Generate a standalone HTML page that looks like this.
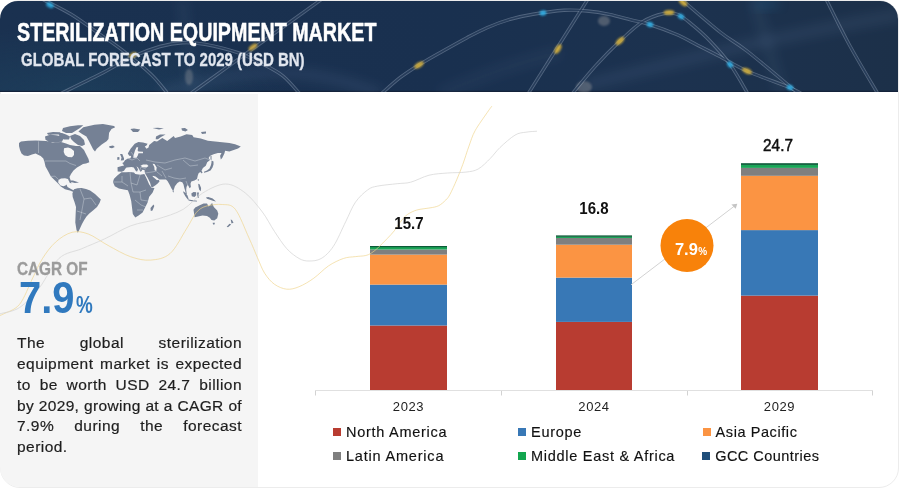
<!DOCTYPE html>
<html><head><meta charset="utf-8">
<style>
*{margin:0;padding:0;box-sizing:border-box}
html,body{width:900px;height:489px;overflow:hidden;background:#fff;font-family:"Liberation Sans",sans-serif}
.abs{position:absolute}
.cagr,.big,.pct,.para,.val,.yr,.lg{z-index:2}
#frame{position:absolute;left:0;top:0;width:899px;height:488px;border:1px solid #ececec;border-radius:20px;background:#fff}
#hdr{position:absolute;left:0;top:1px;width:898px;height:91.3px;border-radius:18px 18px 0 0;overflow:hidden;box-shadow:inset 0 -1.3px 0 #13223a;background:radial-gradient(ellipse 220px 70px at 70px 95px,rgba(32,72,100,0.55),rgba(32,72,100,0)),linear-gradient(90deg,#1a3150 0%,#19304f 50%,#1c324f 75%,#1c3049 100%)}
#lp{position:absolute;left:0;top:94px;width:258px;height:393px;background:#f5f5f5;border-bottom-left-radius:20px}
.t1{position:absolute;left:17.3px;top:16.9px;color:#fff;font-weight:bold;font-size:25px;white-space:nowrap;transform-origin:0 0;transform:scaleX(0.7874);-webkit-text-stroke:0.5px #fff}
.t2{position:absolute;left:21.2px;top:49px;color:#e1e6ee;font-weight:bold;font-size:17.5px;white-space:nowrap;transform-origin:0 0;transform:scaleX(0.857);-webkit-text-stroke:0.3px #e1e6ee}
.cagr{position:absolute;left:16.7px;top:257.8px;color:#9b9b9b;font-weight:bold;font-size:18.3px;white-space:nowrap;transform-origin:0 0;transform:scaleX(0.837);-webkit-text-stroke:0.3px #9b9b9b}
.big{position:absolute;left:19px;top:273px;color:#3079be;font-weight:bold;font-size:44.5px;white-space:nowrap;transform-origin:0 0;transform:scaleX(0.896)}
.pct{position:absolute;left:75.8px;top:291px;color:#3079be;font-weight:bold;font-size:24.3px;white-space:nowrap;transform-origin:0 0;transform:scaleX(0.775)}
.para{position:absolute;left:17px;top:333.2px;width:225px;font-size:15.5px;line-height:20.8px;color:#1e1e1e;letter-spacing:0.45px;-webkit-text-stroke:0.2px #1e1e1e}
.para div{text-align:justify;text-align-last:justify;white-space:nowrap}
.para div.l{text-align-last:left}
.bar{position:absolute;width:77px}
.val{position:absolute;font-weight:bold;font-size:17px;color:#111;text-align:center;width:80px;transform-origin:50% 0;transform:scaleX(0.885)}
.yr{position:absolute;font-size:13px;color:#222;text-align:center;width:80px;letter-spacing:0.6px}
.lg{position:absolute;font-size:14.5px;color:#111;white-space:nowrap;letter-spacing:0.45px;-webkit-text-stroke:0.15px #111}
.lg i{position:absolute;left:-13px;top:3.5px;width:8px;height:8px}
</style></head>
<body>
<div id="frame"></div>
<div id="hdr">
<svg class="abs" style="left:0;top:0" width="898" height="91" viewBox="0 0 898 91">
 <defs>
  <filter id="bl" x="-50%" y="-50%" width="200%" height="200%"><feGaussianBlur stdDeviation="1.3"/></filter>
  <filter id="bl2" x="-50%" y="-50%" width="200%" height="200%"><feGaussianBlur stdDeviation="6"/></filter>
  <radialGradient id="rg1" cx="0.5" cy="0.5" r="0.5"><stop offset="0" stop-color="#3a5a85" stop-opacity="0.45"/><stop offset="1" stop-color="#3a5a85" stop-opacity="0"/></radialGradient>
 </defs>
 <g fill="none" stroke="#6d86a8" stroke-opacity="0.2" stroke-width="8" filter="url(#bl2)">
  <path d="M585 84 C 680 60, 790 32, 900 14"/>
  <path d="M754 -2 L 782 93" stroke-opacity="0.14"/>
  <path d="M182 -2 L 193 93" stroke-width="4" stroke-opacity="0.25"/>
  <path d="M440 93 C 470 80, 520 60, 560 52" stroke-opacity="0.12"/>
  <path d="M160 93 C 230 70, 300 60, 380 93"/>
 </g>
 <ellipse cx="604" cy="20" rx="6" ry="5" fill="#c8c0b8" opacity="0.3" filter="url(#bl)"/>
 <ellipse cx="584" cy="86" rx="8" ry="6" fill="#c8c0b8" opacity="0.3" filter="url(#bl)"/>
 <ellipse cx="766" cy="3" rx="14" ry="5" fill="#2a7fb0" opacity="0.25" filter="url(#bl2)"/>
 <ellipse cx="189" cy="76" rx="4" ry="8" fill="#c8c0b8" opacity="0.25" filter="url(#bl)"/>
  <g fill="none" stroke="#b4c2d6" stroke-opacity="0.36" stroke-width="3.4">
<path d="M381.0 93.0 C384.2 90.3 393.5 81.7 400.0 76.7 C406.5 71.8 412.8 67.8 420.0 63.3 C427.2 58.8 435.2 54.4 443.0 50.0 C450.8 45.6 459.7 40.6 467.0 36.7 C474.3 32.8 479.8 29.8 487.0 26.7 C494.2 23.6 502.3 20.5 510.0 18.3 C517.7 16.1 524.0 14.8 533.0 13.3 C542.0 11.8 555.0 9.9 564.0 9.3 C573.0 8.8 579.5 9.3 587.0 10.0 C594.5 10.7 601.7 11.8 609.0 13.3 C616.3 14.8 624.3 17.2 631.0 18.9 C637.7 20.6 641.5 20.9 649.0 23.3 C656.5 25.7 667.8 29.8 676.0 33.3 C684.2 36.8 690.7 40.7 698.0 44.4 C705.3 48.1 711.8 51.3 720.0 55.6 C728.2 59.9 735.3 64.8 747.0 70.0 C758.7 75.2 780.8 82.9 790.0 86.7 C799.2 90.5 800.0 92.0 802.0 93.0"/>
<path d="M572.0 93.0 C576.0 88.2 588.0 73.2 596.0 64.4 C604.0 55.6 612.3 47.2 620.0 40.0 C627.7 32.8 634.7 25.7 642.0 21.1 C649.3 16.5 658.0 13.8 664.0 12.5 C670.0 11.2 673.2 11.5 678.0 13.5 C682.8 15.5 687.7 20.0 693.0 24.4 C698.3 28.8 703.8 33.5 710.0 40.0 C716.2 46.5 723.7 54.5 730.0 63.3 C736.3 72.1 745.0 88.0 748.0 93.0"/>
<path d="M528.0 93.0 C538.0 77.2 578.0 13.8 588.0 -2.0"/>
<path d="M681.0 -2.0 C687.5 3.5 709.0 22.3 720.0 31.0 C731.0 39.7 733.8 39.7 747.0 50.0 C760.2 60.3 790.3 85.8 799.0 93.0"/>
<path d="M826.0 -2.0 C830.0 5.8 841.3 29.2 850.0 45.0 C858.7 60.8 873.3 85.0 878.0 93.0"/>
<path d="M42.0 -2.0 C46.8 0.6 61.3 7.4 71.0 13.3 C80.7 19.2 91.5 27.4 100.0 33.3 C108.5 39.2 113.5 42.2 122.0 48.9 C130.5 55.6 143.3 66.0 151.0 73.3 C158.7 80.6 165.2 89.7 168.0 93.0"/>
<path d="M60.0 93.0 C66.7 89.7 87.8 79.5 100.0 73.3 C112.2 67.1 123.0 60.2 133.0 55.6 C143.0 51.0 151.8 47.8 160.0 45.5 C168.2 43.2 174.5 42.1 182.0 41.7 C189.5 41.3 195.7 41.6 205.0 43.3 C214.3 45.0 228.3 48.4 238.0 51.7 C247.7 55.0 255.5 59.4 263.0 63.3 C270.5 67.2 276.8 70.0 283.0 75.0 C289.2 80.0 297.2 90.0 300.0 93.0"/>
<path d="M190.0 93.0 C212.0 77.2 300.0 13.8 322.0 -2.0"/>
 </g>
 <g fill="none" stroke="#19304f" stroke-opacity="0.75" stroke-width="1.6">
<path d="M381.0 93.0 C384.2 90.3 393.5 81.7 400.0 76.7 C406.5 71.8 412.8 67.8 420.0 63.3 C427.2 58.8 435.2 54.4 443.0 50.0 C450.8 45.6 459.7 40.6 467.0 36.7 C474.3 32.8 479.8 29.8 487.0 26.7 C494.2 23.6 502.3 20.5 510.0 18.3 C517.7 16.1 524.0 14.8 533.0 13.3 C542.0 11.8 555.0 9.9 564.0 9.3 C573.0 8.8 579.5 9.3 587.0 10.0 C594.5 10.7 601.7 11.8 609.0 13.3 C616.3 14.8 624.3 17.2 631.0 18.9 C637.7 20.6 641.5 20.9 649.0 23.3 C656.5 25.7 667.8 29.8 676.0 33.3 C684.2 36.8 690.7 40.7 698.0 44.4 C705.3 48.1 711.8 51.3 720.0 55.6 C728.2 59.9 735.3 64.8 747.0 70.0 C758.7 75.2 780.8 82.9 790.0 86.7 C799.2 90.5 800.0 92.0 802.0 93.0"/>
<path d="M572.0 93.0 C576.0 88.2 588.0 73.2 596.0 64.4 C604.0 55.6 612.3 47.2 620.0 40.0 C627.7 32.8 634.7 25.7 642.0 21.1 C649.3 16.5 658.0 13.8 664.0 12.5 C670.0 11.2 673.2 11.5 678.0 13.5 C682.8 15.5 687.7 20.0 693.0 24.4 C698.3 28.8 703.8 33.5 710.0 40.0 C716.2 46.5 723.7 54.5 730.0 63.3 C736.3 72.1 745.0 88.0 748.0 93.0"/>
<path d="M528.0 93.0 C538.0 77.2 578.0 13.8 588.0 -2.0"/>
<path d="M681.0 -2.0 C687.5 3.5 709.0 22.3 720.0 31.0 C731.0 39.7 733.8 39.7 747.0 50.0 C760.2 60.3 790.3 85.8 799.0 93.0"/>
<path d="M826.0 -2.0 C830.0 5.8 841.3 29.2 850.0 45.0 C858.7 60.8 873.3 85.0 878.0 93.0"/>
<path d="M42.0 -2.0 C46.8 0.6 61.3 7.4 71.0 13.3 C80.7 19.2 91.5 27.4 100.0 33.3 C108.5 39.2 113.5 42.2 122.0 48.9 C130.5 55.6 143.3 66.0 151.0 73.3 C158.7 80.6 165.2 89.7 168.0 93.0"/>
<path d="M60.0 93.0 C66.7 89.7 87.8 79.5 100.0 73.3 C112.2 67.1 123.0 60.2 133.0 55.6 C143.0 51.0 151.8 47.8 160.0 45.5 C168.2 43.2 174.5 42.1 182.0 41.7 C189.5 41.3 195.7 41.6 205.0 43.3 C214.3 45.0 228.3 48.4 238.0 51.7 C247.7 55.0 255.5 59.4 263.0 63.3 C270.5 67.2 276.8 70.0 283.0 75.0 C289.2 80.0 297.2 90.0 300.0 93.0"/>
<path d="M190.0 93.0 C212.0 77.2 300.0 13.8 322.0 -2.0"/>
 </g>
 <g filter="url(#bl)" opacity="0.85">
  <ellipse cx="419" cy="64" rx="5.5" ry="2.6" fill="#e0b83a" transform="rotate(-32 419 64)"/>
  <ellipse cx="558" cy="48" rx="5.5" ry="2.6" fill="#e0b83a" transform="rotate(-57.7 558 48)"/>
  <ellipse cx="620" cy="40" rx="5.5" ry="2.6" fill="#e0b83a" transform="rotate(-43 620 40)"/>
  <ellipse cx="669" cy="11.5" rx="5.5" ry="2.6" fill="#e0b83a" transform="rotate(-3 669 11.5)"/>
  <ellipse cx="747" cy="70" rx="5.5" ry="2.6" fill="#e0b83a" transform="rotate(24 747 70)"/>
  <ellipse cx="683" cy="1.5" rx="5" ry="2.6" fill="#e0b83a" transform="rotate(40 683 1.5)"/>
  <ellipse cx="253" cy="46" rx="5" ry="2.6" fill="#d8b040" transform="rotate(-35.7 253 46)"/>
  <ellipse cx="133" cy="54" rx="4" ry="2.6" fill="#d8b040" transform="rotate(-24.9 133 54)"/>
  <ellipse cx="543" cy="12" rx="3.5" ry="2.6" fill="#30b8f0" transform="rotate(-7 543 12)"/>
  <ellipse cx="650" cy="23.5" rx="3.5" ry="2.6" fill="#30b8f0" transform="rotate(17.7 650 23.5)"/>
  <ellipse cx="681" cy="15.5" rx="3.5" ry="2.6" fill="#30b8f0" transform="rotate(36 681 15.5)"/>
  <ellipse cx="730" cy="63.5" rx="3.5" ry="2.6" fill="#30b8f0" transform="rotate(54 730 63.5)"/>
  <ellipse cx="790" cy="86.5" rx="3.5" ry="2.6" fill="#30b8f0" transform="rotate(22.7 790 86.5)"/>
  <ellipse cx="50" cy="4" rx="4" ry="2.6" fill="#30b8f0" transform="rotate(27.8 50 4)"/>
 </g>
</svg>
<div class="t1" id="t1">STERILIZATION EQUIPMENT MARKET</div>
<div class="t2" id="t2">GLOBAL FORECAST TO 2029 (USD BN)</div>
</div>
<div id="lp"></div>

<!-- world map placeholder -->
<svg class="abs" id="map" style="left:0;top:0" width="260" height="260" viewBox="0 0 260 260"><path fill="#758195" d="M19,146 L19,143 L21,141.5 L28,140.8 L36,140.6 L46,141 L53,142.5 L61,141.9 L66,143.5 L70,145 L76,146 L80,146 L84,150 L86.5,155 L88.5,159 L89.3,162.3 L86,163.5 L83,164 L80.5,165.5 L77,167.5 L73.5,170.5 L71,174 L69.5,177 L70.5,180 L71.4,183.5 L69.5,182.5 L68,179 L65,178.3 L61,178.5 L58.5,180 L58.2,182.5 L60.5,185.5 L63.5,186.3 L65.5,185.5 L66.5,184.5 L67.5,187 L71,189 L74,190.5 L77.8,190.5 L77,192 L74,192.2 L70,190.5 L65,189.2 L60.5,186.3 L58.6,184.1 L55,180.5 L50.9,176.4 L48,171 L45.5,166.5 L44.5,162 L43.3,158.5 L40.7,155.9 L37.5,154.5 L35.6,153.4 L32,154.5 L27.9,155.9 L24,155.5 L21.5,153.4 L20,150 Z M78.4,131.5 L83.3,127.2 L94.4,124.7 L102.9,124.1 L114,126 L115.2,127.2 L111.5,129 L109.1,132.7 L108.5,138.9 L106.6,141.3 L101.7,144.4 L96.8,148.7 L95,151.5 L93.1,149.3 L90.7,144.4 L88.8,140.7 L86.4,136.4 L82.1,134 Z M70,136 L75,134 L80,136 L84,140 L85,144.5 L82,146 L78,145 L74,142 L71,139 Z M63,128 L70,126.3 L78,125.3 L83.3,125.3 L80,128 L76,130.5 L72,133 L66,133 L62,131 Z M45,136.5 L50,134.8 L56,135.2 L60,136 L63.5,138.5 L62,141.8 L55,142.3 L49,141.8 L45.5,139.8 Z M47,133 L53,132 L60,132.3 L62,134.2 L55,134.6 L48,134.8 Z M58,133 L62,133 L66,134.5 L70,136.5 L69,139.5 L64,139.5 L60,137 Z M68.9,180.3 L73,180.5 L79,182.5 L75,183 L69,181.5 Z M74,189.2 L77.5,188.3 L81.6,187.9 L86,189 L90.1,190.4 L95,194.1 L100.8,199.4 L99.5,203 L97,207.1 L93,210.5 L89.3,213.5 L86.5,216.5 L84.2,219.9 L82,224 L80.4,227.6 L79,230.5 L77.8,232.7 L76.5,230 L75.3,222.5 L75.6,215 L76,207.1 L74.5,202 L72.7,196.9 L72.4,193.5 Z M112.9,182.1 L114,178.8 L117.3,175.5 L121.4,172.3 L126,172.2 L130,172 L134,172.6 L135.3,173.9 L140.2,174.7 L144.3,173.9 L146.7,178.8 L149.2,184.5 L151.6,187.8 L154.5,188 L152.5,192.7 L149.2,196.8 L147.6,202.6 L145.1,207.5 L142.6,212.4 L138.6,215.6 L135.3,217.6 L132.8,214 L132,207.5 L131.2,200.9 L129.5,194.4 L127.9,190.3 L123.8,189.5 L118.9,188.6 L114.8,186.2 Z M153.5,204.5 L154.3,206 L152.5,210.5 L150.8,211 L150.5,208 Z M121.8,171.8 L117.7,171.4 L117.5,167.2 L120.9,166.3 L124.1,165.4 L122.3,163.1 L123.7,162.3 L125,160.3 L127.8,158.5 L130.5,158.2 L131.2,156 L129.2,155.7 L127.8,153.4 L130.6,148.8 L134.7,143.7 L138.4,141.9 L143,142.4 L147.6,143.7 L146.5,145.5 L144.8,146.5 L146.5,148.8 L148.5,147.5 L149.2,145 L154.1,140.9 L157,141.5 L162.3,138 L167.2,140.9 L173.7,136 L175,137.9 L180.7,136.5 L186.5,134.3 L192.2,135 L193.6,137.2 L200.8,138.6 L207.9,140.7 L215.1,141.5 L222.2,142.2 L229.4,142.9 L235.1,144.3 L240.8,146.5 L238,148.6 L233.7,150 L229.4,151.5 L225.1,150.8 L224.4,153.6 L222.2,157.9 L220.8,159.4 L220.1,155.8 L221.5,152.9 L217.9,152.9 L213.6,154.3 L210.1,155.8 L208.6,157.9 L210.1,160.1 L207.2,162.2 L205.8,165.8 L202.9,167.9 L201.5,170.8 L202.5,172.5 L201.8,173.5 L200.3,172 L198.6,173.2 L197.8,175.6 L197,178.9 L194.5,180.5 L191.3,181.4 L190.5,183.8 L190.9,187.1 L189.6,188.3 L188.5,186 L187.5,185 L186.5,187 L186.2,190 L186.8,194 L186,194.5 L185.1,190.4 L184.3,187.9 L183.5,184.6 L182.3,182.2 L179.8,181.4 L177.4,183 L174.9,186.3 L173.3,191.2 L171.5,188.5 L169.5,184.5 L167.5,181 L166,179.6 L162,179.6 L159.3,179.6 L157.5,178 L155.5,176.6 L152.8,175.8 L152.6,176.6 L155,178.6 L157,180.2 L158.6,179.8 L159.6,181.2 L158,183.2 L155.5,185.3 L152.5,187.2 L151.2,186.8 L150,182.5 L147.5,177.5 L145.1,173.5 L144.6,171.3 L144.5,170 L141.5,169.8 L142.1,170.8 L140.5,171.8 L139.3,170 L138.3,167.8 L136.5,166.3 L138,169.5 L137,171.8 L135.5,170.5 L133.8,167.5 L131.5,167 L129.2,167.3 L126.5,167.6 L125.5,168.6 L124,170.8 Z M120,154 L122.3,153.9 L124.1,158.5 L123.8,160.3 L120.8,160.6 L121.5,157.5 Z M117.2,157.3 L119.3,157 L119.5,159.6 L117.4,159.9 Z M109.1,146.2 L113,145.5 L114.8,147 L112,148.3 L109.5,147.8 Z M211.5,160.5 L213.5,161.5 L213.5,164.5 L212.5,167.5 L210.5,170.5 L207,172 L204,172.8 L204,171.8 L207,170.5 L209.5,168.5 L211,165 L211.5,162.5 Z M210.5,155.5 L211.5,156 L211.5,160 L210.5,159.5 Z M197.8,179 L198.8,179.3 L198.6,181 L197.8,180.6 Z M172.8,190.5 L173.8,191 L173.5,192.5 L172.7,192 Z M198.2,183.8 L199.6,184.3 L201.1,188 L200.8,191.2 L199.2,189.8 L198.5,186.8 Z M191.3,193.5 L193.5,192 L196.2,192.2 L196.2,195.2 L194.5,196.9 L191.8,196.2 Z M183.1,191.2 L185,192.5 L187.5,195.5 L188.8,199.4 L187.8,199.6 L185.5,196.5 L183.5,193 Z M188.5,199.5 L193,200.2 L197,200.8 L197,201.6 L192,201.3 L188.5,200.4 Z M197,192.5 L199,192.6 L198.5,195 L199.1,197.8 L197.5,197.5 Z M205.9,197.5 L208.2,196.9 L212.7,198.6 L216,201.4 L213.5,201 L211.5,200.3 L207,198.8 Z M193.5,209.8 L195.2,207.6 L199.7,205.3 L203.6,203.6 L207,203.6 L208.7,206.5 L211,204.2 L212.1,203.1 L213.8,207 L217.2,210.4 L218.3,213.8 L217.2,218.3 L214.3,220.5 L211.5,220 L209.8,217.7 L207,216 L202.5,215.5 L198,216.6 L194.6,217.2 L194.1,213.8 Z M212.7,222.8 L214.9,222.8 L214.5,224.5 L213,224.5 Z M230.7,219.4 L232,220 L233.5,222.8 L231.5,223.5 Z M229.5,223.8 L231.2,224.5 L228,227.3 L226.7,226.8 Z M130.4,129 L134,128.6 L140.2,129.5 L138,131.9 L133,131.9 Z M156,136.5 L160,134.6 L165.6,134.5 L161,137 L158,139.3 L155.7,139.3 Z M152.5,128 L158,127.8 L163.9,128.5 L159,129.5 Z M181.4,128.2 L185,127.9 L187.9,130 L185.5,131.4 L182,130.5 Z M201,132 L206,131.5 L206,133.5 L202,134 Z"/><path fill="#f5f5f5" d="M140.5,165.8 L143,164.5 L147,164.5 L148.5,166 L146.5,167.6 L142.5,167.3 Z M152.6,163.7 L154.5,164 L156.7,167.5 L156.2,171 L154.6,170.3 L154.3,167 Z M133.2,157.8 L133.8,154.5 L135,150.5 L136.5,147.3 L138.2,147.2 L137.6,150.5 L138.5,151.6 L143,151.8 L143,153.2 L138.5,153.3 L137.8,155.5 L136.5,157.8 Z M64,148.3 L68,147.5 L71,148.5 L74,151 L74,155 L72,157.2 L68,157 L65,155 L63.7,152 Z"/><path fill="none" stroke="#dfe3ea" stroke-opacity="0.75" stroke-width="0.5" d="M38.5,141.3 L38.5,153 M44.5,161 L66,161 L70,163.5 L76,165.5 M50,176.5 L55,176.2 L58.5,179.5 M80,189 L84,199 L82,210 L80,220 M84,199 L91,198 L96,205 M77,211 L86,214 M113,182 L122,182 L128,186 M122,176 L122,182 M130,172 L131,183 L137,185 L140,175 M131,183 L133,192 L140,192 L146,190 M140,192 L141,200 L148,201 M135,200 L141,205 L146,207 M137,210 L143,210 M127,158 L132,160 L137,158 L140,161 M131,152 L135,157 M146,160 L155,162 L165,163 L175,160 L185,158 L195,161 L205,158 L210,160 M157,165 L165,170 L172,168 M168,176 L174,178 L180,179 L186,178 M183,160 L190,166 L198,165 M157,172 L162,176 M162,171 L166,178 M145,173 L152,172 L157,171 M139.5,171 L141,167 L146,169 M186,181 L188,186"/></svg>


<div class="cagr" id="cagr">CAGR OF</div>
<div class="big" id="big">7.9</div><div class="pct" id="pct">%</div>
<div class="para" id="para">
<div>The global sterilization</div>
<div>equipment market is expected</div>
<div>to be worth USD 24.7 billion</div>
<div style="letter-spacing:0.33px">by 2029, growing at a CAGR of</div>
<div>7.9% during the forecast</div>
<div class="l">period.</div>
</div>

<!-- chart -->
<svg class="abs" style="left:0;top:0" width="900" height="489" viewBox="0 0 900 489">
 <g stroke-width="1" fill="none">
  <path stroke="#e0e0e0" d="M315 390.5 H873"/>
  <path stroke="#d2d2d2" d="M315.5 391 V395.5 M501.5 391 V395.5 M687.5 391 V395.5 M872.5 391 V395.5"/>
 </g>
 <!-- 2023 -->
 <rect x="370" y="325.5" width="77" height="64.5" fill="#b83c31"/>
 <rect x="370" y="284.6" width="77" height="40.9" fill="#3878b6"/>
 <rect x="370" y="254.6" width="77" height="30" fill="#fb9443"/>
 <rect x="370" y="249.5" width="77" height="5.1" fill="#7f7f7f"/>
 <rect x="370" y="247" width="77" height="2.5" fill="#1aa557"/>
 <rect x="370" y="246" width="77" height="1.2" fill="#0c5a38"/>
 <!-- 2024 -->
 <rect x="556" y="321.9" width="76" height="68.1" fill="#b83c31"/>
 <rect x="556" y="277.6" width="76" height="44.3" fill="#3878b6"/>
 <rect x="556" y="244.7" width="76" height="32.9" fill="#fb9443"/>
 <rect x="556" y="238" width="76" height="6.7" fill="#7f7f7f"/>
 <rect x="556" y="236.5" width="76" height="1.5" fill="#1aa557"/>
 <rect x="556" y="235.4" width="76" height="1.4" fill="#0c5a38"/>
 <!-- 2029 -->
 <rect x="741" y="295.6" width="77" height="94.4" fill="#b83c31"/>
 <rect x="741" y="230.1" width="77" height="65.5" fill="#3878b6"/>
 <rect x="741" y="175.8" width="77" height="54.3" fill="#fb9443"/>
 <rect x="741" y="167.9" width="77" height="7.9" fill="#7f7f7f"/>
 <rect x="741" y="164.5" width="77" height="3.4" fill="#1aa557"/>
 <rect x="741" y="163.2" width="77" height="1.7" fill="#0c5a38"/>
 <!-- arrow -->
 <path d="M631 284.8 L734.5 206" stroke="#d2d2d2" stroke-width="1" fill="none"/>
 <path d="M737.3 203.8 L731.4 204.6 L735.7 208.8 Z" fill="#c4c4c4"/>
 <circle cx="687" cy="245.4" r="26.5" fill="#f8820a"/>
</svg>
<!-- decorative curves -->
<svg class="abs" style="left:0;top:0" width="900" height="489" viewBox="0 0 900 489">
 <g fill="none" stroke-width="1">
  <path stroke="#f0d48a" stroke-opacity="0.65" d="M-2.0 316.0 C-1.1 315.7 -0.3 315.9 3.3 314.0 C6.9 312.1 14.7 310.3 19.6 304.3 C24.5 298.3 28.9 285.6 32.7 278.0 C36.5 270.4 38.7 264.5 42.5 258.5 C46.3 252.5 50.7 246.5 55.6 242.1 C60.5 237.7 66.5 233.7 72.0 232.3 C77.5 231.0 82.3 231.8 88.3 234.0 C94.3 236.2 100.9 241.6 108.0 245.4 C115.1 249.2 123.7 254.4 130.8 256.8 C137.9 259.2 143.9 260.6 150.4 260.1 C156.9 259.6 164.0 258.8 170.0 253.6 C176.0 248.4 182.0 235.8 186.4 229.0 C190.8 222.2 192.9 216.5 196.2 212.7 C199.5 208.9 201.6 207.6 206.0 206.2 C210.4 204.8 217.5 204.0 222.4 204.5 C227.3 205.0 231.0 203.8 235.4 209.4 C239.8 215.0 245.3 230.0 249.0 238.0 C252.7 246.0 254.8 251.6 257.4 257.5 C260.0 263.4 261.8 268.8 264.7 273.3 C267.6 277.8 270.8 281.7 274.5 284.3 C278.2 286.9 282.7 288.8 286.8 289.2 C290.9 289.6 294.6 288.5 299.1 286.7 C303.6 284.9 308.9 281.7 313.8 278.2 C318.7 274.7 323.6 269.2 328.5 265.9 C333.4 262.6 338.8 260.1 343.3 258.5 C347.8 256.9 351.8 257.1 355.5 256.6 C359.2 256.1 362.7 256.2 365.3 255.6 C367.9 255.0 369.2 254.4 371.4 253.0 C373.6 251.6 376.0 249.6 378.6 247.2 C381.2 244.8 384.6 241.3 387.2 238.6 C389.8 235.9 392.4 233.2 394.3 230.8 C396.2 228.4 396.7 226.8 398.6 224.3 C400.5 221.8 403.4 217.9 405.8 215.8 C408.2 213.7 410.5 212.6 412.9 211.5 C415.3 210.4 417.1 209.9 420.0 209.3 C422.9 208.7 426.9 208.5 430.0 207.9 C433.1 207.3 436.1 207.0 438.7 205.7 C441.3 204.4 443.9 201.9 445.8 200.0 C447.7 198.1 448.2 197.7 450.0 194.3 C451.8 190.9 454.6 184.8 456.7 179.8 C458.8 174.8 460.8 170.0 462.8 164.4 C464.9 158.8 466.9 151.6 469.0 146.0 C471.1 140.4 472.0 136.3 475.1 130.7 C478.2 125.1 484.6 116.4 487.4 112.3 C490.2 108.2 491.2 107.0 492.0 106.0"/>
  <path stroke="#d6d6d6" stroke-opacity="0.75" d="M-2.0 314.0 C-1.4 313.9 -2.0 314.5 1.6 313.4 C5.2 312.3 13.3 311.7 19.6 307.5 C25.9 303.3 32.7 296.2 39.2 288.0 C45.8 279.8 51.8 265.1 58.9 258.5 C66.0 251.9 74.2 252.0 81.8 248.7 C89.4 245.4 96.4 242.7 104.6 238.9 C112.8 235.1 122.1 229.1 130.8 225.8 C139.5 222.5 148.3 221.9 157.0 219.2 C165.7 216.5 175.5 213.8 183.1 209.4 C190.7 205.0 195.6 197.2 202.7 193.0 C209.8 188.8 218.5 184.0 225.6 184.0 C232.7 184.0 239.2 188.3 245.3 193.0 C251.4 197.7 257.4 205.5 262.3 211.9 C267.2 218.3 270.4 225.4 274.5 231.5 C278.6 237.6 282.7 244.2 286.8 248.7 C290.9 253.2 295.4 256.4 299.1 258.5 C302.8 260.6 305.2 261.0 308.9 261.0 C312.6 261.0 317.1 260.9 321.2 258.5 C325.3 256.1 329.3 252.4 333.4 246.3 C337.5 240.2 342.0 229.1 345.7 221.7 C349.4 214.3 351.8 207.4 355.5 202.1 C359.2 196.8 364.1 192.5 367.8 189.8 C371.5 187.1 372.7 187.1 377.6 186.1 C382.5 185.1 391.7 184.3 397.2 183.7 C402.7 183.0 405.4 183.6 410.7 182.2 C416.0 180.8 423.0 176.7 429.1 175.2 C435.2 173.7 441.4 173.5 447.5 173.0 C453.6 172.5 460.8 172.8 465.9 172.1 C471.0 171.4 474.1 171.3 478.2 169.0 C482.3 166.7 486.8 161.9 490.4 158.3 C494.0 154.7 495.9 151.4 500.0 147.5 C504.1 143.6 510.7 137.7 515.0 135.1 C519.3 132.5 522.3 132.8 526.0 132.2 C529.7 131.5 535.2 131.4 537.0 131.2"/>
 </g>
</svg>
<div class="abs" style="left:674.9px;top:239.8px;color:#fff;font-weight:bold;font-size:16.5px;white-space:nowrap">7.9<span style="font-size:10px;margin-left:0.5px">%</span></div>

<div class="val" style="left:368.7px;top:213.8px">15.7</div>
<div class="val" style="left:554px;top:198.7px">16.8</div>
<div class="val" style="left:738px;top:136px;font-weight:normal;-webkit-text-stroke:0.5px #111;transform:scaleX(0.9)">24.7</div>

<div class="yr" style="left:368.5px;top:399px">2023</div>
<div class="yr" style="left:554px;top:399px">2024</div>
<div class="yr" style="left:739.5px;top:399px">2029</div>

<div class="lg" style="left:346px;top:424px;letter-spacing:0.72px"><i style="background:#b83c31"></i>North America</div>
<div class="lg" style="left:346px;top:448px;letter-spacing:0.8px"><i style="background:#7f7f7f"></i>Latin America</div>
<div class="lg" style="left:531px;top:424px;letter-spacing:0.72px"><i style="background:#3878b6"></i>Europe</div>
<div class="lg" style="left:531px;top:448px;letter-spacing:0.72px"><i style="background:#12a64f"></i>Middle East &amp; Africa</div>
<div class="lg" style="left:715.6px;top:424px;letter-spacing:0.58px"><i style="background:#fb9443"></i>Asia Pacific</div>
<div class="lg" style="left:715.2px;top:448px;letter-spacing:0.45px"><i style="background:#1f4e7a"></i>GCC Countries</div>
</body></html>
